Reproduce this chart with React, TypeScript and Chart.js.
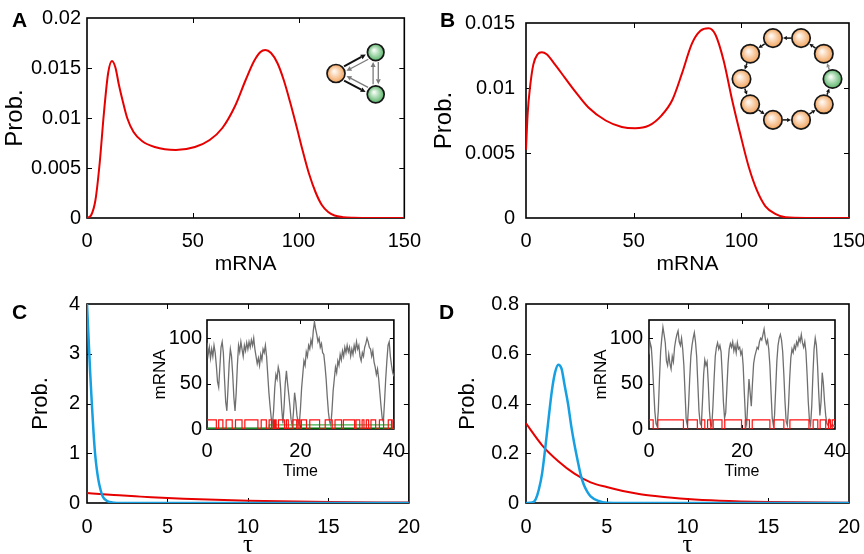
import React, { useEffect, useRef } from 'react';
import { Chart, registerables } from 'chart.js';

Chart.register(...registerables);

const SANS = "'Liberation Sans', Arial, Helvetica, sans-serif";
const SERIF = "'Liberation Serif', 'Times New Roman', serif";

// ---------------- data ----------------
// Panel A
const A_MRNA = [0, 2, 4, 6, 8, 10, 11.8, 13.5, 15, 17, 19, 22, 26, 32, 42, 51, 58, 64, 70, 75, 79, 82, 84.3, 87, 90, 93, 96, 99, 102, 105, 108, 111, 114, 117, 121, 126, 135, 150];
const A_PROB = [0, 0.0003, 0.0018, 0.0055, 0.0105, 0.0145, 0.0157, 0.015, 0.0134, 0.0116, 0.01, 0.0086, 0.0077, 0.0071, 0.0068, 0.0071, 0.0078, 0.009, 0.0112, 0.0138, 0.0157, 0.0166, 0.0168, 0.0165, 0.0155, 0.0138, 0.0116, 0.0092, 0.0067, 0.0044, 0.0026, 0.0013, 0.0006, 0.00025, 0.00008, 0.00002, 0, 0];
// Panel B
const B_MRNA = [0, 0.8, 1.9, 3.4, 5.4, 7.3, 9.6, 13.5, 18, 23, 29, 37, 44.5, 50.7, 57, 63, 68, 72.4, 77, 81, 84.8, 88, 91.8, 95.7, 99.6, 103.5, 107.3, 111.2, 116, 120.5, 130, 150];
const B_PROB = [0.00525, 0.0081, 0.0101, 0.0118, 0.0126, 0.01275, 0.0126, 0.0118, 0.0108, 0.0097, 0.0085, 0.0075, 0.007, 0.0069, 0.0071, 0.0079, 0.0091, 0.0111, 0.0134, 0.0144, 0.0146, 0.0141, 0.0121, 0.0091, 0.0064, 0.0039, 0.0021, 0.0009, 0.0003, 0.00005, 0, 0];
// Panel C
const C_TAU_BLUE = [0, 0.1, 0.2, 0.3, 0.4, 0.5, 0.6, 0.7, 0.8, 0.9, 1.0, 1.2, 1.4, 1.7, 2, 20];
const C_BLUE = [4, 3.3, 2.6, 2.0, 1.45, 1.0, 0.7, 0.48, 0.32, 0.2, 0.12, 0.05, 0.02, 0.005, 0, 0];
const C_TAU_RED = [0, 1, 2, 3, 4, 5, 6, 8, 10, 12, 15, 20];
const C_RED = [0.2, 0.175, 0.155, 0.135, 0.115, 0.1, 0.085, 0.063, 0.047, 0.034, 0.02, 0.008];
// Panel D
const D_TAU_BLUE = [0, 0.4, 0.6, 0.8, 1.0, 1.2, 1.4, 1.6, 1.8, 2.0, 2.2, 2.4, 2.6, 2.8, 3.0, 3.2, 3.4, 3.6, 3.8, 4.0, 4.5, 5, 6, 20];
const D_BLUE = [0, 0.002, 0.015, 0.055, 0.12, 0.225, 0.34, 0.45, 0.525, 0.556, 0.54, 0.47, 0.4, 0.31, 0.235, 0.17, 0.11, 0.07, 0.045, 0.027, 0.008, 0.001, 0, 0];
const D_TAU_RED = [0, 1, 2, 3, 4, 5, 6, 7, 8, 10, 12, 15, 20];
const D_RED = [0.32, 0.232, 0.168, 0.118, 0.083, 0.064, 0.048, 0.036, 0.028, 0.016, 0.009, 0.004, 0.0008];

// Insets: trajectories sampled every INSET_DT time units
const INSET_DT = 0.25;
const C_TRAJ = [
  95, 82, 90, 78, 88, 80, 92, 84,
  70, 52, 46, 68, 90, 96, 84, 55,
  30, 20, 45, 72, 88, 80, 60, 35,
  20, 40, 70, 92, 85, 96, 88, 80,
  92, 86, 95, 88, 96, 90, 98, 92,
  100, 88, 80, 72, 78, 70, 82, 76,
  88, 84, 92, 80, 60, 40, 25, 12,
  5, 20, 45, 60, 55, 68, 62, 45,
  22, 6, 25, 50, 64, 50, 38, 25,
  10, 3, 18, 40, 30, 15, 8, 5,
  22, 45, 60, 75, 70, 85, 80, 92,
  88, 98, 92, 108, 118, 110, 104, 96,
  100, 90, 94, 84, 82, 70, 55, 35,
  18, 8, 4, 20, 42, 55, 68, 62,
  75, 70, 82, 76, 86, 80, 90, 84,
  92, 85, 90, 80, 88, 82, 92, 86,
  96, 88, 92, 80, 75, 84, 80, 90,
  94, 100, 96, 90, 88, 80, 86, 74,
  68, 60, 66, 55, 40, 25, 12, 8,
  30, 55, 75, 92, 96, 80, 70, 62,
  58,
];
const D_TRAJ = [
  82, 95, 90, 70, 45, 20, 6, 3,
  20, 55, 85, 100, 112, 104, 95, 75,
  70, 82, 72, 66, 80, 74, 90, 98,
  104, 108, 96, 92, 100, 88, 70, 40,
  10, 4, 25, 55, 80, 92, 100, 106,
  96, 80, 50, 20, 6, 4, 30, 60,
  76, 70, 74, 50, 20, 5, 3, 25,
  55, 80, 90, 95, 88, 92, 85, 60,
  30, 12, 18, 45, 72, 88, 94, 90,
  96, 86, 92, 84, 95, 88, 90, 82,
  86, 70, 40, 12, 5, 30, 55, 40,
  25, 50, 72, 80, 85, 90, 88, 96,
  100, 98, 104, 110, 100, 94, 98, 88,
  70, 40, 12, 4, 15, 45, 75, 92,
  100, 104, 98, 85, 60, 30, 8, 4,
  25, 55, 78, 88, 84, 92, 88, 96,
  92, 100, 96, 104, 95, 90, 96, 85,
  60, 30, 10, 4, 25, 60, 88, 100,
  92, 70, 40, 15, 30, 62, 50, 30,
  15, 6, 4, 10, 6, 3, 5, 3,
  4,
];
// Gene state (telegraph) signals: switching times and level after each switch
const C_RED_T = [0, 2.0, 2.5, 3.4, 4.1, 5.4, 6.1, 7.5, 8.1, 10.9, 11.6, 12.7, 13.3, 13.8, 14.2, 14.4, 14.6, 14.8, 15.3, 16.6, 17.0, 17.4, 18.4, 19.2, 19.5, 19.9, 20.2, 21.3, 22.0, 24.1, 25.3, 26.8, 27.4, 28.8, 29.2, 31.6, 31.9, 32.7, 33.2, 33.6, 34.1, 34.6, 35.1, 36.1, 36.9, 37.8, 38.8, 39.5, 39.8, 40];
const C_RED_V = [10, 0, 10, 0, 10, 0, 10, 0, 10, 0, 10, 0, 10, 0, 10, 0, 10, 0, 10, 0, 10, 0, 10, 0, 10, 0, 10, 0, 10, 0, 10, 0, 10, 0, 10, 0, 10, 0, 10, 0, 10, 0, 10, 0, 10, 0, 10, 0, 10, 10];
const C_GREEN_T = [0, 13.3, 39.5, 40];
const C_GREEN_V = [0, 4.5, 0, 0];
const C_DKGREEN_T = [0, 40];
const C_DKGREEN_V = [0, 0];
const D_RED_T = [0, 0.9, 1.9, 7.4, 8.3, 10.4, 11.3, 12.0, 12.6, 13.3, 13.8, 15.7, 16.3, 19.9, 20.7, 21.6, 22.2, 26.0, 26.9, 29.0, 30.3, 34.4, 35.3, 36.3, 36.8, 38.0, 38.6, 39.0, 39.4, 40];
const D_RED_V = [10, 0, 10, 0, 10, 0, 10, 0, 10, 0, 10, 0, 10, 0, 10, 0, 10, 0, 10, 0, 10, 0, 10, 0, 10, 0, 10, 0, 10, 10];

// tick values / labels
const AB_XTICKS = [0, 50, 100, 150];
const AB_XLABELS = ['0', '50', '100', '150'];
const A_YTICKS = [0, 0.005, 0.01, 0.015, 0.02];
const A_YLABELS = ['0', '0.005', '0.01', '0.015', '0.02'];
const B_YTICKS = [0, 0.005, 0.01, 0.015];
const B_YLABELS = ['0', '0.005', '0.01', '0.015'];
const CD_XTICKS = [0, 5, 10, 15, 20];
const CD_XLABELS = ['0', '5', '10', '15', '20'];
const C_YTICKS = [0, 1, 2, 3, 4];
const C_YLABELS = ['0', '1', '2', '3', '4'];
const D_YTICKS = [0, 0.2, 0.4, 0.6, 0.8];
const D_YLABELS = ['0', '0.2', '0.4', '0.6', '0.8'];
const INSET_XTICKS = [0, 20, 40];
const INSET_XLABELS = ['0', '20', '40'];
const INSET_YTICKS = [0, 50, 100];
const INSET_YLABELS = ['0', '50', '100'];

// ---------------- helpers ----------------
const RED = 'rgb(230,0,0)';
const BLUE = 'rgb(22,160,225)';
const GRAY = '#6f6f6f';

const pts = (xs: number[], ys: number[]) => xs.map((x, i) => ({ x, y: ys[i] }));
const trajPts = (ys: number[]) => ys.map((y, i) => ({ x: i * INSET_DT, y }));

function curve(data: any[], color: string, width: number, extra: any = {}) {
  return {
    data,
    borderColor: color,
    backgroundColor: color,
    borderWidth: width,
    pointRadius: 0,
    fill: false,
    cubicInterpolationMode: 'monotone',
    ...extra,
  };
}

type Node = { x: number; y: number; r: number };

function drawNode(ctx: CanvasRenderingContext2D, n: Node, kind: 'o' | 'g') {
  const g = ctx.createRadialGradient(n.x - n.r * 0.2, n.y - n.r * 0.25, n.r * 0.1, n.x, n.y, n.r);
  if (kind === 'o') {
    g.addColorStop(0, '#fff6ee');
    g.addColorStop(1, '#f2a45e');
  } else {
    g.addColorStop(0, '#f0faf0');
    g.addColorStop(1, '#5ab46a');
  }
  ctx.fillStyle = g;
  ctx.beginPath();
  ctx.arc(n.x, n.y, n.r, 0, Math.PI * 2);
  ctx.fill();
  ctx.lineWidth = 1.7;
  ctx.strokeStyle = '#161616';
  ctx.stroke();
}

function arrow(ctx: CanvasRenderingContext2D, x1: number, y1: number, x2: number, y2: number, color: string, width: number, head: number) {
  const ang = Math.atan2(y2 - y1, x2 - x1);
  const c = Math.cos(ang), s = Math.sin(ang);
  const bx = x2 - head * c, by = y2 - head * s;
  ctx.strokeStyle = color;
  ctx.fillStyle = color;
  ctx.lineWidth = width;
  ctx.beginPath();
  ctx.moveTo(x1, y1);
  ctx.lineTo(bx, by);
  ctx.stroke();
  ctx.beginPath();
  ctx.moveTo(x2, y2);
  ctx.lineTo(bx + head * 0.5 * s, by - head * 0.5 * c);
  ctx.lineTo(bx - head * 0.5 * s, by + head * 0.5 * c);
  ctx.closePath();
  ctx.fill();
}

function link(ctx: CanvasRenderingContext2D, a: Node, b: Node, offset: number, color: string, width: number, gap: number, head: number) {
  const dx = b.x - a.x, dy = b.y - a.y;
  const L = Math.hypot(dx, dy);
  const ux = dx / L, uy = dy / L;
  const px = -uy * offset, py = ux * offset;
  arrow(ctx, a.x + ux * (a.r + gap) + px, a.y + uy * (a.r + gap) + py, b.x - ux * (b.r + gap) + px, b.y - uy * (b.r + gap) + py, color, width, head);
}

function drawTriangleNet(ctx: CanvasRenderingContext2D) {
  const O = { x: 336, y: 73.5, r: 9 };
  const T = { x: 375.7, y: 52.3, r: 8.3 };
  const Bt = { x: 375.7, y: 94.3, r: 8.5 };
  link(ctx, O, T, -2.6, '#111', 2, 1.5, 5);
  link(ctx, T, O, -2.6, '#7a7a7a', 1.3, 1.5, 5);
  link(ctx, O, Bt, 2.6, '#111', 2, 1.5, 5);
  link(ctx, Bt, O, 2.6, '#7a7a7a', 1.3, 1.5, 5);
  link(ctx, T, Bt, -2.6, '#7a7a7a', 1.3, 1.5, 5);
  link(ctx, Bt, T, -2.6, '#7a7a7a', 1.3, 1.5, 5);
  drawNode(ctx, O, 'o');
  drawNode(ctx, T, 'g');
  drawNode(ctx, Bt, 'g');
}

function drawRingNet(ctx: CanvasRenderingContext2D) {
  const cx = 355, cy = 79, rx = 45.5, ry = 43;
  const nodes: Node[] = [];
  for (let k = 0; k < 10; k++) {
    const th = (k * 36 * Math.PI) / 180;
    nodes.push({ x: cx + rx * Math.cos(th), y: cy - ry * Math.sin(th), r: 9.2 });
  }
  for (let k = 0; k < 10; k++) {
    link(ctx, nodes[k], nodes[(k + 1) % 10], 0, k === 0 ? '#8a8a8a' : '#111', 1.5, 0.8, 4);
  }
  nodes.forEach((n, k) => drawNode(ctx, n, k === 0 ? 'g' : 'o'));
}

interface Panel {
  key: string;
  left: number; top: number; w: number; h: number;
  area: { l: number; t: number; r: number; b: number };
  xMin: number; xMax: number; yMin: number; yMax: number;
  xTicks: number[]; xLabels: string[]; yTicks: number[]; yLabels: string[];
  xTitle: string; xTitleFont: any; xTitleCenter: number;
  yTitle: string; yTitleFont: any; yTitleCenter: number;
  xTickPad: number; yTickPad: number;
  tickLen: number;
  fillArea?: boolean;
  letter?: { text: string; x: number; y: number };
  decor?: (ctx: CanvasRenderingContext2D) => void;
  datasets: any[];
}

const TICK_FONT = { family: SANS, size: 20 };

const PANELS: Panel[] = [
  {
    key: 'A', left: 0, top: 0, w: 432, h: 290,
    area: { l: 87, t: 18, r: 409, b: 218 },
    xMin: 0, xMax: 150, yMin: 0, yMax: 0.02,
    xTicks: AB_XTICKS, xLabels: AB_XLABELS, yTicks: A_YTICKS, yLabels: A_YLABELS,
    xTitle: 'mRNA', xTitleFont: { family: SANS, size: 21, lineHeight: 1 }, xTitleCenter: 264,
    yTitle: 'Prob.', yTitleFont: { family: SANS, size: 24, lineHeight: 1 }, yTitleCenter: 15,
    xTickPad: 11, yTickPad: 6, tickLen: 5,
    letter: { text: 'A', x: 12, y: 27 },
    decor: drawTriangleNet,
    datasets: [curve(pts(A_MRNA, A_PROB), RED, 2)],
  },
  {
    key: 'B', left: 432, top: 0, w: 460, h: 290,
    area: { l: 94, t: 18, r: 417, b: 218 },
    xMin: 0, xMax: 150, yMin: 0, yMax: 0.015,
    xTicks: AB_XTICKS, xLabels: AB_XLABELS, yTicks: B_YTICKS, yLabels: B_YLABELS,
    xTitle: 'mRNA', xTitleFont: { family: SANS, size: 21, lineHeight: 1 }, xTitleCenter: 264,
    yTitle: 'Prob.', yTitleFont: { family: SANS, size: 24, lineHeight: 1 }, yTitleCenter: 12,
    xTickPad: 11, yTickPad: 11, tickLen: 5,
    letter: { text: 'B', x: 8, y: 27 },
    decor: drawRingNet,
    datasets: [curve(pts(B_MRNA, B_PROB), RED, 2)],
  },
  {
    key: 'C', left: 0, top: 280, w: 432, h: 290,
    area: { l: 87, t: 24, r: 411, b: 223 },
    xMin: 0, xMax: 20, yMin: 0, yMax: 4,
    xTicks: CD_XTICKS, xLabels: CD_XLABELS, yTicks: C_YTICKS, yLabels: C_YLABELS,
    xTitle: 'τ', xTitleFont: { family: SERIF, size: 25, lineHeight: 1 }, xTitleCenter: 265,
    yTitle: 'Prob.', yTitleFont: { family: SANS, size: 22, lineHeight: 1 }, yTitleCenter: 41,
    xTickPad: 12, yTickPad: 7, tickLen: 5,
    letter: { text: 'C', x: 12, y: 39 },
    datasets: [
      curve(pts(C_TAU_BLUE, C_BLUE), BLUE, 2.5),
      curve(pts(C_TAU_RED, C_RED), RED, 2),
    ],
  },
  {
    key: 'D', left: 432, top: 280, w: 460, h: 290,
    area: { l: 94, t: 24, r: 417, b: 223 },
    xMin: 0, xMax: 20, yMin: 0, yMax: 0.8,
    xTicks: CD_XTICKS, xLabels: CD_XLABELS, yTicks: D_YTICKS, yLabels: D_YLABELS,
    xTitle: 'τ', xTitleFont: { family: SERIF, size: 25, lineHeight: 1 }, xTitleCenter: 265,
    yTitle: 'Prob.', yTitleFont: { family: SANS, size: 22, lineHeight: 1 }, yTitleCenter: 36,
    xTickPad: 12, yTickPad: 7, tickLen: 5,
    letter: { text: 'D', x: 7, y: 39 },
    datasets: [
      curve(pts(D_TAU_BLUE, D_BLUE), BLUE, 2.5),
      curve(pts(D_TAU_RED, D_RED), RED, 2),
    ],
  },
  {
    key: 'Ci', left: 140, top: 300, w: 275, h: 190,
    area: { l: 67, t: 20, r: 254, b: 129 },
    xMin: 0, xMax: 40, yMin: 0, yMax: 120,
    xTicks: INSET_XTICKS, xLabels: INSET_XLABELS, yTicks: INSET_YTICKS, yLabels: INSET_YLABELS,
    xTitle: 'Time', xTitleFont: { family: SANS, size: 16, lineHeight: 1 }, xTitleCenter: 171.5,
    yTitle: 'mRNA', yTitleFont: { family: SANS, size: 17, lineHeight: 1 }, yTitleCenter: 20,
    xTickPad: 10, yTickPad: 5, tickLen: 4,
    fillArea: true,
    datasets: [
      curve(pts(C_RED_T, C_RED_V), '#ff1010', 1.2, { stepped: true, cubicInterpolationMode: 'default' }),
      curve(pts(C_GREEN_T, C_GREEN_V), '#3fb04a', 1.2, { stepped: true, cubicInterpolationMode: 'default' }),
      curve(pts(C_DKGREEN_T, C_DKGREEN_V), '#006a00', 3, { cubicInterpolationMode: 'default' }),
      curve(trajPts(C_TRAJ), GRAY, 1.3, { cubicInterpolationMode: 'default', tension: 0 }),
    ],
  },
  {
    key: 'Di', left: 582, top: 300, w: 275, h: 190,
    area: { l: 67, t: 20, r: 253, b: 129 },
    xMin: 0, xMax: 40, yMin: 0, yMax: 120,
    xTicks: INSET_XTICKS, xLabels: INSET_XLABELS, yTicks: INSET_YTICKS, yLabels: INSET_YLABELS,
    xTitle: 'Time', xTitleFont: { family: SANS, size: 16, lineHeight: 1 }, xTitleCenter: 171.5,
    yTitle: 'mRNA', yTitleFont: { family: SANS, size: 17, lineHeight: 1 }, yTitleCenter: 19.5,
    xTickPad: 10, yTickPad: 6, tickLen: 4,
    fillArea: true,
    datasets: [
      curve(pts(D_RED_T, D_RED_V), '#ff1010', 1.2, { stepped: true, cubicInterpolationMode: 'default' }),
      curve(trajPts(D_TRAJ), GRAY, 1.3, { cubicInterpolationMode: 'default', tension: 0 }),
    ],
  },
];

function framePlugin(p: Panel) {
  return {
    id: 'frame' + p.key,
    beforeDatasetsDraw(chart: any) {
      const { ctx, chartArea: a, scales } = chart;
      ctx.save();
      if (p.fillArea) {
        ctx.fillStyle = '#ffffff';
        ctx.fillRect(a.left, a.top, a.right - a.left, a.bottom - a.top);
      }
      ctx.strokeStyle = '#000';
      ctx.lineWidth = 1;
      ctx.beginPath();
      for (const v of p.xTicks) {
        const x = Math.round(scales.x.getPixelForValue(v)) + 0.5;
        if (x <= a.left + 2 || x >= a.right - 2) continue;
        ctx.moveTo(x, a.bottom);
        ctx.lineTo(x, a.bottom - p.tickLen);
        ctx.moveTo(x, a.top);
        ctx.lineTo(x, a.top + p.tickLen);
      }
      for (const v of p.yTicks) {
        const y = Math.round(scales.y.getPixelForValue(v)) + 0.5;
        if (y <= a.top + 2 || y >= a.bottom - 2) continue;
        ctx.moveTo(a.left, y);
        ctx.lineTo(a.left + p.tickLen, y);
        ctx.moveTo(a.right, y);
        ctx.lineTo(a.right - p.tickLen, y);
      }
      ctx.stroke();
      ctx.lineWidth = 1.6;
      ctx.strokeRect(a.left, a.top, a.right - a.left, a.bottom - a.top);
      ctx.restore();
    },
    afterDraw(chart: any) {
      const ctx = chart.ctx as CanvasRenderingContext2D;
      ctx.save();
      if (p.decor) p.decor(ctx);
      if (p.letter) {
        ctx.fillStyle = '#000';
        ctx.font = `bold 21px ${SANS}`;
        ctx.textBaseline = 'alphabetic';
        ctx.textAlign = 'left';
        ctx.fillText(p.letter.text, p.letter.x, p.letter.y);
      }
      ctx.restore();
    },
  };
}

function buildConfig(p: Panel): any {
  const xH = p.h - p.area.b;
  const yW = p.area.l;
  const xTitlePad = p.h - p.xTitleCenter - p.xTitleFont.size / 2;
  const yTitlePad = p.yTitleCenter - p.yTitleFont.size / 2;
  return {
    type: 'line',
    data: { datasets: p.datasets },
    options: {
      animation: false,
      responsive: false,
      devicePixelRatio: 1,
      events: [],
      layout: { padding: { left: 0, top: p.area.t, right: p.w - p.area.r, bottom: 0 } },
      plugins: { legend: { display: false }, tooltip: { enabled: false }, title: { display: false } },
      scales: {
        x: {
          type: 'linear',
          min: p.xMin,
          max: p.xMax,
          grid: { display: false, drawTicks: false },
          border: { display: false },
          ticks: {
            font: TICK_FONT,
            color: '#000',
            padding: p.xTickPad,
            autoSkip: false,
            maxRotation: 0,
            minRotation: 0,
            callback: (_v: any, i: number) => p.xLabels[i],
          },
          afterBuildTicks: (s: any) => {
            s.ticks = p.xTicks.map((v) => ({ value: v }));
          },
          afterFit: (s: any) => {
            s.height = xH;
          },
          title: {
            display: true,
            text: p.xTitle,
            color: '#000',
            font: p.xTitleFont,
            padding: { top: 0, bottom: xTitlePad },
          },
        },
        y: {
          type: 'linear',
          min: p.yMin,
          max: p.yMax,
          grid: { display: false, drawTicks: false },
          border: { display: false },
          ticks: {
            font: TICK_FONT,
            color: '#000',
            padding: p.yTickPad,
            autoSkip: false,
            callback: (_v: any, i: number) => p.yLabels[i],
          },
          afterBuildTicks: (s: any) => {
            s.ticks = p.yTicks.map((v) => ({ value: v }));
          },
          afterFit: (s: any) => {
            s.width = yW;
          },
          title: {
            display: true,
            text: p.yTitle,
            color: '#000',
            font: p.yTitleFont,
            padding: { top: yTitlePad, bottom: 0 },
          },
        },
      },
    },
    plugins: [framePlugin(p)],
  };
}

export default function App() {
  const refs = useRef<(HTMLCanvasElement | null)[]>([]);
  useEffect(() => {
    const charts = PANELS.map((p, i) => new Chart(refs.current[i] as HTMLCanvasElement, buildConfig(p)));
    return () => charts.forEach((c) => c.destroy());
  }, []);
  return (
    <div
      style={{
        position: 'absolute',
        left: 0,
        top: 0,
        width: 864,
        height: 554,
        overflow: 'hidden',
        background: '#ffffff',
      }}
    >
      {PANELS.map((p, i) => (
        <canvas
          key={p.key}
          ref={(el) => {
            refs.current[i] = el;
          }}
          width={p.w}
          height={p.h}
          style={{ position: 'absolute', left: p.left, top: p.top, width: p.w, height: p.h }}
        />
      ))}
    </div>
  );
}
